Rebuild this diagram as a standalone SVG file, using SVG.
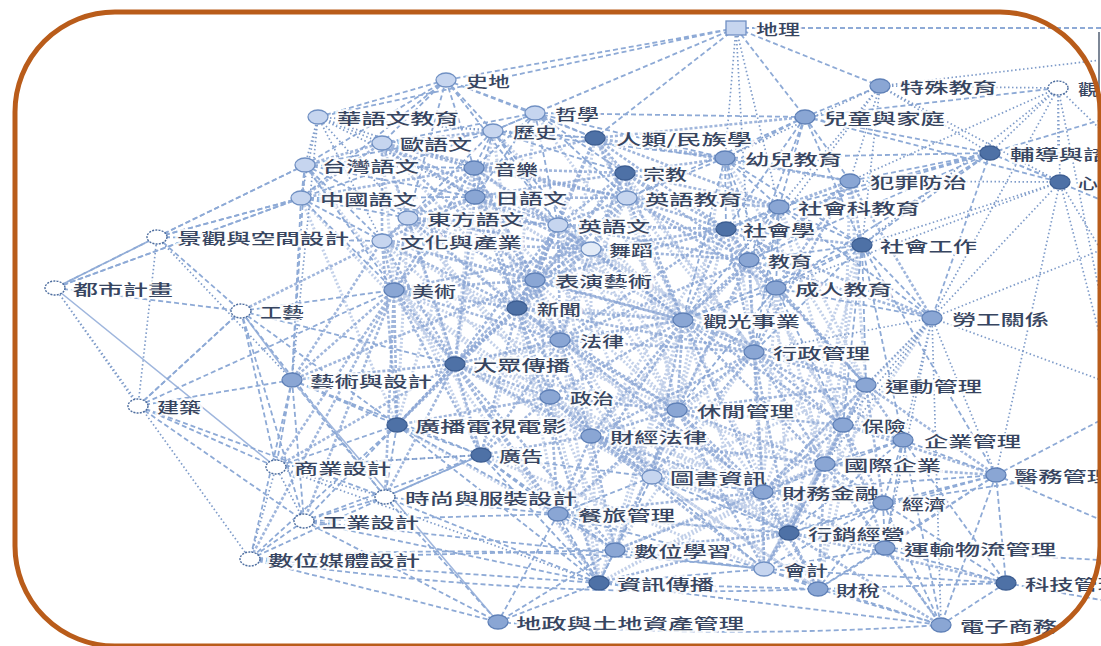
<svg xmlns="http://www.w3.org/2000/svg" width="1101" height="646" viewBox="0 0 1101 646">
<style>
.d{fill:none;stroke:#8eaad6;stroke-width:1.8;stroke-dasharray:5 3}
.t{fill:none;stroke:#7e9bc9;stroke-width:1.7;stroke-dasharray:1.5 2.5}
.s{fill:none;stroke:#9fb6dd;stroke-width:1.6}
.w{fill:none;stroke:#88a4d3;stroke-width:2.6;stroke-dasharray:3 2;opacity:.8}
.w2{fill:none;stroke:#9ab1da;stroke-width:3;stroke-dasharray:2 2;opacity:.6}
.n1{fill:#c6d5ef;stroke:#7090c3;stroke-width:1.3}
.n2{fill:#8aa6d4;stroke:#5f80b7;stroke-width:1.3}
.n3{fill:#4e71a6;stroke:#3d5e92;stroke-width:1.3}
.n0{fill:#fff;stroke:#4c6c9e;stroke-width:1.4;stroke-dasharray:2 1.2}
text{font-family:"Noto Sans CJK TC","Noto Sans CJK SC",sans-serif;font-size:15px;font-weight:500;fill:#374560;dominant-baseline:central;stroke:#fff;stroke-width:4;stroke-opacity:.85;paint-order:stroke;stroke-linejoin:round}
</style>
<rect width="1101" height="646" fill="#fff"/>
<g id="connectors">
<path class="w2" d="M382 143L683 320M382 143L560 340M474 168L683 320M474 168L560 340M474 168L754 352M475 197L683 320M475 197L560 340M475 197L677 410M408 218L683 320M408 218L560 340M408 218L550 397M408 218L591 436M558 225L677 410M558 225L591 436M558 225L754 352M558 225L652 477M591 249L677 410M591 249L591 436M591 249L754 352M591 249L763 492M535 280L591 436M535 280L677 410M535 280L652 477M535 280L481 455M517 308L652 477M517 308L558 514M517 308L763 492M394 290L550 397M394 290L591 436M394 290L683 320M394 290L677 410M382 241L560 340M382 241L550 397M382 241L481 455M455 364L683 320M455 364L677 410M455 364L652 477M455 364L763 492M560 340L789 533M560 340L615 550M560 340L599 583M683 320L789 533M683 320L764 569M683 320L615 550M683 320L599 583M754 352L764 569M754 352L558 514M754 352L615 550M754 352L883 503M677 410L599 583M677 410L883 503M677 410L818 589M591 436L599 583M591 436L818 589M550 397L615 550M550 397L599 583M550 397L763 492M550 397L789 533M652 477L818 589M652 477L885 548M763 492L599 583M789 533L558 514M843 425L764 569M843 425L818 589M843 425L652 477M866 385L764 569M866 385L818 589M866 385L652 477M825 464L615 550M825 464L599 583M776 288L763 492M776 288L789 533M776 288L825 464M749 260L843 425M749 260L825 464M749 260L763 492M749 260L591 436M726 229L677 410M726 229L843 425M726 229L591 436M627 198L677 410M627 198L754 352M627 198L560 340M625 173L754 352M625 173L677 410M625 173L560 340M595 138L683 320M595 138L754 352M595 138L560 340M725 158L754 352M725 158L866 385M725 158L677 410M779 207L866 385M779 207L843 425M779 207L677 410M850 181L866 385M850 181L843 425M862 245L825 464M862 245L763 492M862 245L789 533M932 318L789 533M932 318L763 492M493 131L683 320M493 131L517 308M493 131L455 364M535 113L517 308M535 113L683 320M474 168L455 364M474 168L397 425M382 143L455 364M382 143L394 290M305 165L455 364M301 198L455 364M301 198L397 425M408 218L397 425M408 218L481 455M394 290L599 583M397 425L615 550M481 455L764 569M455 364L789 533"/>
<path class="d" d="M736 28L446 80M736 28L535 113M736 28L595 138M736 28L493 131M736 28L805 117M736 28L880 86M736 28L1101 28M736 28L318 117"/>
<path class="t" d="M736 28L725 158M736 28L779 207M736 28L749 260"/>
<path class="d" d="M446 80L318 117M446 80L382 143M446 80L493 131M446 80L535 113M446 80L474 168M446 80L305 165M446 80L595 138M446 80L301 198M446 80L408 218M446 80L558 225"/>
<path class="t" d="M318 117L305 165M318 117L382 143M318 117L301 198M318 117L493 131M318 117L474 168M318 117L382 241M318 117L408 218M318 117L475 197M318 117L292 380M318 117L595 138"/>
<path class="d" d="M535 113L493 131M535 113L595 138M535 113L474 168M535 113L625 173M535 113L382 143M535 113L475 197M535 113L558 225M535 113L725 158M535 113L805 117M535 113L627 198"/>
<path class="w" d="M382 143L493 131M382 143L474 168M382 143L305 165M382 143L301 198M382 143L475 197M382 143L408 218M382 143L558 225M382 143L382 241M382 143L627 198M382 143L535 280"/>
<path class="d" d="M493 131L595 138M493 131L474 168M493 131L625 173M493 131L475 197M493 131L558 225M493 131L408 218M493 131L305 165M493 131L591 249M493 131L725 158M493 131L301 198"/>
<path class="w" d="M595 138L625 173M595 138L725 158M595 138L805 117M595 138L627 198M595 138L726 229M595 138L558 225M595 138L474 168M595 138L779 207M595 138L535 280M595 138L517 308M595 138L850 181"/>
<path class="d" d="M805 117L880 86M805 117L725 158M805 117L850 181M805 117L990 153M805 117L779 207M805 117L749 260M805 117L862 245M805 117L726 229M805 117L1060 182M805 117L627 198M805 117L1058 88"/>
<path class="t" d="M880 86L1058 88M880 86L990 153M880 86L850 181M880 86L725 158M880 86L779 207M880 86L862 245M880 86L749 260M880 86L1060 182M880 86L1101 60"/>
<path class="t" d="M1058 88L990 153M1058 88L1060 182M1058 88L862 245M1058 88L932 318M1058 88L850 181M1058 88L1101 130M1058 88L1101 300M1058 88L1058 160"/>
<path class="d" d="M305 165L301 198M305 165L474 168M305 165L475 197M305 165L408 218M305 165L382 241M305 165L157 237M305 165L292 380M305 165L394 290"/>
<path class="w" d="M474 168L475 197M474 168L558 225M474 168L408 218M474 168L382 241M474 168L535 280M474 168L591 249M474 168L394 290M474 168L517 308M474 168L625 173M474 168L627 198M474 168L301 198"/>
<path class="w" d="M625 173L725 158M625 173L627 198M625 173L726 229M625 173L558 225M625 173L591 249M625 173L749 260M625 173L779 207M625 173L535 280M625 173L683 320M625 173L517 308M625 173L475 197"/>
<path class="d" d="M725 158L779 207M725 158L749 260M725 158L726 229M725 158L850 181M725 158L862 245M725 158L627 198M725 158L776 288M725 158L990 153M725 158L683 320"/>
<path class="d" d="M990 153L1060 182M990 153L850 181M990 153L862 245M990 153L932 318M990 153L779 207M990 153L749 260M990 153L776 288M990 153L1101 120M990 153L1101 200M990 153L726 229"/>
<path class="t" d="M1060 182L862 245M1060 182L932 318M1060 182L850 181M1060 182L1101 250M1060 182L996 475M1060 182L776 288M1060 182L1101 340"/>
<path class="w" d="M850 181L862 245M850 181L779 207M850 181L749 260M850 181L726 229M850 181L932 318M850 181L776 288M850 181L754 352M850 181L683 320"/>
<path class="d" d="M301 198L475 197M301 198L408 218M301 198L382 241M301 198L157 237M301 198L55 288M301 198L394 290M301 198L292 380M301 198L558 225"/>
<path class="w" d="M475 197L408 218M475 197L558 225M475 197L382 241M475 197L591 249M475 197L535 280M475 197L394 290M475 197L517 308M475 197L627 198M475 197L455 364"/>
<path class="w" d="M627 198L558 225M627 198L726 229M627 198L591 249M627 198L749 260M627 198L779 207M627 198L535 280M627 198L683 320M627 198L776 288M627 198L517 308"/>
<path class="d" d="M779 207L726 229M779 207L862 245M779 207L749 260M779 207L776 288M779 207L932 318M779 207L754 352M779 207L683 320"/>
<path class="d" d="M157 237L55 288M157 237L301 198M157 237L305 165M157 237L382 241M157 237L241 311"/>
<path class="t" d="M157 237L138 406M157 237L292 380"/>
<path class="w" d="M408 218L558 225M408 218L382 241M408 218L535 280M408 218L394 290M408 218L517 308M408 218L591 249M408 218L455 364"/>
<path class="w" d="M558 225L591 249M558 225L535 280M558 225L517 308M558 225L726 229M558 225L683 320M558 225L560 340M558 225L749 260M558 225L455 364"/>
<path class="w" d="M726 229L862 245M726 229L749 260M726 229L776 288M726 229L683 320M726 229L754 352M726 229L591 249M726 229L535 280M726 229L932 318M726 229L560 340M726 229L866 385"/>
<path class="d" d="M862 245L749 260M862 245L776 288M862 245L932 318M862 245L754 352M862 245L866 385M862 245L843 425M862 245L683 320M862 245L996 475M862 245L903 440"/>
<path class="w" d="M382 241L394 290M382 241L535 280M382 241L517 308M382 241L455 364M382 241L292 380M382 241L241 311M382 241L397 425M382 241L591 249M382 241L683 320"/>
<path class="w" d="M591 249L535 280M591 249L517 308M591 249L683 320M591 249L560 340M591 249L749 260M591 249L455 364M591 249L394 290"/>
<path class="w" d="M749 260L776 288M749 260L683 320M749 260L754 352M749 260L932 318M749 260L866 385M749 260L677 410M749 260L560 340"/>
<path class="d" d="M55 288L241 311M55 288L301 198M55 288L157 237"/>
<path class="t" d="M55 288L138 406M55 288L250 559"/>
<path class="s" d="M55 288L276 467"/>
<path class="w" d="M535 280L517 308M535 280L394 290M535 280L455 364M535 280L560 340M535 280L683 320M535 280L550 397M535 280L397 425M535 280L292 380"/>
<path class="d" d="M776 288L754 352M776 288L932 318M776 288L866 385M776 288L683 320M776 288L677 410M776 288L843 425"/>
<path class="s" d="M241 311L292 380"/>
<path class="d" d="M241 311L138 406M241 311L394 290M241 311L276 467M241 311L385 497M241 311L304 521M241 311L455 364M241 311L397 425"/>
<path class="w" d="M394 290L517 308M394 290L455 364M394 290L292 380M394 290L397 425M394 290L481 455M394 290L385 497M394 290L276 467M394 290L304 521M394 290L250 559M394 290L560 340"/>
<path class="w" d="M517 308L455 364M517 308L560 340M517 308L550 397M517 308L683 320M517 308L397 425M517 308L481 455M517 308L591 436M517 308L677 410M517 308L754 352M517 308L599 583"/>
<path class="t" d="M932 318L866 385M932 318L843 425M932 318L903 440M932 318L996 475M932 318L754 352M932 318L825 464M932 318L1101 250M932 318L1101 380M932 318L941 625M932 318L885 548"/>
<path class="w" d="M683 320L754 352M683 320L677 410M683 320L560 340M683 320L550 397M683 320L866 385M683 320L591 436M683 320L763 492M683 320L652 477M683 320L843 425M683 320L558 514M683 320L825 464"/>
<path class="w" d="M560 340L550 397M560 340L455 364M560 340L591 436M560 340L677 410M560 340L754 352M560 340L481 455M560 340L652 477M560 340L763 492"/>
<path class="w" d="M754 352L866 385M754 352L677 410M754 352L843 425M754 352L903 440M754 352L825 464M754 352L763 492M754 352L789 533M754 352L591 436M754 352L652 477"/>
<path class="w" d="M455 364L397 425M455 364L481 455M455 364L550 397M455 364L292 380M455 364L385 497M455 364L591 436M455 364L599 583M455 364L615 550M455 364L558 514M455 364L276 467"/>
<path class="d" d="M292 380L397 425M292 380L276 467M292 380L385 497M292 380L304 521M292 380L250 559M292 380L138 406M292 380L481 455"/>
<path class="s" d="M292 380L498 622"/>
<path class="w" d="M866 385L843 425M866 385L903 440M866 385L825 464M866 385L677 410M866 385L996 475M866 385L883 503M866 385L763 492M866 385L789 533"/>
<path class="d" d="M138 406L241 311M138 406L276 467M138 406L385 497M138 406L304 521M138 406L394 290"/>
<path class="w" d="M550 397L591 436M550 397L481 455M550 397L677 410M550 397L652 477M550 397L558 514M550 397L397 425"/>
<path class="w" d="M677 410L591 436M677 410L652 477M677 410L763 492M677 410L825 464M677 410L843 425M677 410L789 533M677 410L558 514M677 410L615 550M677 410L764 569"/>
<path class="d" d="M397 425L481 455M397 425L385 497M397 425L276 467M397 425L304 521M397 425L599 583M397 425L558 514M397 425L250 559"/>
<path class="w" d="M843 425L903 440M843 425L825 464M843 425L763 492M843 425L883 503M843 425L789 533M843 425L996 475M843 425L885 548"/>
<path class="w" d="M591 436L652 477M591 436L763 492M591 436L558 514M591 436L825 464M591 436L789 533M591 436L615 550M591 436L764 569M591 436L481 455"/>
<path class="d" d="M903 440L825 464M903 440L996 475M903 440L883 503M903 440L763 492M903 440L789 533M903 440L885 548M903 440L941 625M903 440L1006 583"/>
<path class="d" d="M481 455L385 497M481 455L558 514M481 455L599 583M481 455L615 550M481 455L652 477M481 455L276 467M481 455L304 521"/>
<path class="t" d="M276 467L385 497M276 467L304 521M276 467L250 559M276 467L481 455M276 467L599 583"/>
<path class="w" d="M825 464L763 492M825 464L883 503M825 464L996 475M825 464L789 533M825 464L885 548M825 464L764 569M825 464L818 589M825 464L941 625"/>
<path class="d" d="M652 477L763 492M652 477L558 514M652 477L615 550M652 477L599 583M652 477L789 533M652 477L764 569"/>
<path class="d" d="M996 475L883 503M996 475L885 548M996 475L1006 583M996 475L941 625M996 475L789 533M996 475L763 492M996 475L1101 420M996 475L1101 520M996 475L818 589"/>
<path class="w" d="M763 492L883 503M763 492L789 533M763 492L764 569M763 492L818 589M763 492L885 548M763 492L615 550M763 492L558 514"/>
<path class="d" d="M883 503L789 533M883 503L885 548M883 503L818 589M883 503L941 625M883 503L1006 583M883 503L764 569M883 503L1101 470"/>
<path class="d" d="M385 497L304 521M385 497L250 559M385 497L558 514M385 497L599 583M385 497L498 622M385 497L481 455"/>
<path class="d" d="M304 521L250 559M304 521L599 583M304 521L498 622M304 521L558 514M304 521L764 569"/>
<path class="d" d="M558 514L615 550M558 514L599 583M558 514L498 622M558 514L789 533M558 514L764 569"/>
<path class="w" d="M789 533L885 548M789 533L764 569M789 533L818 589M789 533L941 625M789 533L1006 583M789 533L615 550M789 533L599 583"/>
<path class="d" d="M615 550L599 583M615 550L498 622M615 550L764 569M615 550L250 559"/>
<path class="d" d="M885 548L818 589M885 548L941 625M885 548L1006 583M885 548L764 569M885 548L1101 560"/>
<path class="d" d="M250 559L599 583M250 559Q500 540 764 569M250 559L498 622M250 559Q520 600 818 589"/>
<path class="d" d="M764 569L818 589M764 569L941 625M764 569L599 583M764 569L1006 583M599 583L498 622M599 583L818 589M599 583L941 625M818 589L941 625M818 589L1006 583M1006 583L941 625M1006 583L1101 600M498 622Q720 640 941 625"/>
</g>
<g id="n-dili"><rect x="726" y="21" width="20" height="14" class="n1"/><text x="756" y="28" textLength="44" lengthAdjust="spacingAndGlyphs">地理</text></g>
<g id="n-shidi"><ellipse cx="446" cy="80" rx="10" ry="7" class="n1"/><text x="466" y="80" textLength="44" lengthAdjust="spacingAndGlyphs">史地</text></g>
<g id="n-huayu"><ellipse cx="318" cy="117" rx="10" ry="7" class="n1"/><text x="337" y="117" textLength="122" lengthAdjust="spacingAndGlyphs">華語文教育</text></g>
<g id="n-zhexue"><ellipse cx="535" cy="113" rx="10" ry="7" class="n1"/><text x="555" y="113" textLength="44" lengthAdjust="spacingAndGlyphs">哲學</text></g>
<g id="n-ouyu"><ellipse cx="382" cy="143" rx="10" ry="7" class="n1"/><text x="400" y="143" textLength="72" lengthAdjust="spacingAndGlyphs">歐語文</text></g>
<g id="n-lishi"><ellipse cx="493" cy="131" rx="10" ry="7" class="n1"/><text x="513" y="131" textLength="44" lengthAdjust="spacingAndGlyphs">歷史</text></g>
<g id="n-renlei"><ellipse cx="595" cy="138" rx="10" ry="7" class="n3"/><text x="616" y="138" textLength="136" lengthAdjust="spacingAndGlyphs">人類/民族學</text></g>
<g id="n-ertong"><ellipse cx="805" cy="117" rx="10" ry="7" class="n2"/><text x="823" y="117" textLength="122" lengthAdjust="spacingAndGlyphs">兒童與家庭</text></g>
<g id="n-teshu"><ellipse cx="880" cy="86" rx="10" ry="7" class="n2"/><text x="900" y="86" textLength="97" lengthAdjust="spacingAndGlyphs">特殊教育</text></g>
<g id="n-guan"><ellipse cx="1058" cy="88" rx="10" ry="7" class="n0"/><text x="1078" y="88" textLength="20" lengthAdjust="spacingAndGlyphs">觀</text></g>
<g id="n-taiwan"><ellipse cx="305" cy="165" rx="10" ry="7" class="n1"/><text x="322" y="165" textLength="97" lengthAdjust="spacingAndGlyphs">台灣語文</text></g>
<g id="n-yinyue"><ellipse cx="474" cy="168" rx="10" ry="7" class="n2"/><text x="494" y="168" textLength="44" lengthAdjust="spacingAndGlyphs">音樂</text></g>
<g id="n-zongjiao"><ellipse cx="625" cy="173" rx="10" ry="7" class="n3"/><text x="643" y="173" textLength="44" lengthAdjust="spacingAndGlyphs">宗教</text></g>
<g id="n-youer"><ellipse cx="725" cy="158" rx="10" ry="7" class="n2"/><text x="745" y="158" textLength="97" lengthAdjust="spacingAndGlyphs">幼兒教育</text></g>
<g id="n-fudao"><ellipse cx="990" cy="153" rx="10" ry="7" class="n3"/><text x="1010" y="153" textLength="122" lengthAdjust="spacingAndGlyphs">輔導與諮商</text></g>
<g id="n-xinli"><ellipse cx="1060" cy="182" rx="10" ry="7" class="n3"/><text x="1078" y="182" textLength="20" lengthAdjust="spacingAndGlyphs">心</text></g>
<g id="n-fanzui"><ellipse cx="850" cy="181" rx="10" ry="7" class="n2"/><text x="870" y="181" textLength="97" lengthAdjust="spacingAndGlyphs">犯罪防治</text></g>
<g id="n-zhongguo"><ellipse cx="301" cy="198" rx="10" ry="7" class="n1"/><text x="320" y="198" textLength="97" lengthAdjust="spacingAndGlyphs">中國語文</text></g>
<g id="n-riyu"><ellipse cx="475" cy="197" rx="10" ry="7" class="n2"/><text x="495" y="197" textLength="72" lengthAdjust="spacingAndGlyphs">日語文</text></g>
<g id="n-yingjiao"><ellipse cx="627" cy="198" rx="10" ry="7" class="n1"/><text x="645" y="198" textLength="97" lengthAdjust="spacingAndGlyphs">英語教育</text></g>
<g id="n-shekejiao"><ellipse cx="779" cy="207" rx="10" ry="7" class="n2"/><text x="798" y="207" textLength="122" lengthAdjust="spacingAndGlyphs">社會科教育</text></g>
<g id="n-jingguan"><ellipse cx="157" cy="237" rx="10" ry="7" class="n0"/><text x="177" y="237" textLength="172" lengthAdjust="spacingAndGlyphs">景觀與空間設計</text></g>
<g id="n-dongfang"><ellipse cx="408" cy="218" rx="10" ry="7" class="n1"/><text x="427" y="218" textLength="97" lengthAdjust="spacingAndGlyphs">東方語文</text></g>
<g id="n-yingyuwen"><ellipse cx="558" cy="225" rx="10" ry="7" class="n1"/><text x="578" y="225" textLength="72" lengthAdjust="spacingAndGlyphs">英語文</text></g>
<g id="n-shehuixue"><ellipse cx="726" cy="229" rx="10" ry="7" class="n3"/><text x="743" y="229" textLength="72" lengthAdjust="spacingAndGlyphs">社會學</text></g>
<g id="n-shegong"><ellipse cx="862" cy="245" rx="10" ry="7" class="n3"/><text x="880" y="245" textLength="97" lengthAdjust="spacingAndGlyphs">社會工作</text></g>
<g id="n-wenhua"><ellipse cx="382" cy="241" rx="10" ry="7" class="n1"/><text x="400" y="241" textLength="122" lengthAdjust="spacingAndGlyphs">文化與產業</text></g>
<g id="n-wudao"><ellipse cx="591" cy="249" rx="10" ry="7" class="n1" style="fill:#e3ebf7"/><text x="609" y="249" textLength="44" lengthAdjust="spacingAndGlyphs">舞蹈</text></g>
<g id="n-jiaoyu"><ellipse cx="749" cy="260" rx="10" ry="7" class="n2"/><text x="768" y="260" textLength="44" lengthAdjust="spacingAndGlyphs">教育</text></g>
<g id="n-dushi"><ellipse cx="55" cy="288" rx="10" ry="7" class="n0"/><text x="73" y="288" textLength="100" lengthAdjust="spacingAndGlyphs">都市計畫</text></g>
<g id="n-biaoyan"><ellipse cx="535" cy="280" rx="10" ry="7" class="n2"/><text x="555" y="280" textLength="97" lengthAdjust="spacingAndGlyphs">表演藝術</text></g>
<g id="n-chengren"><ellipse cx="776" cy="288" rx="10" ry="7" class="n2"/><text x="795" y="288" textLength="97" lengthAdjust="spacingAndGlyphs">成人教育</text></g>
<g id="n-gongyi"><ellipse cx="241" cy="311" rx="10" ry="7" class="n0"/><text x="260" y="311" textLength="44" lengthAdjust="spacingAndGlyphs">工藝</text></g>
<g id="n-meishu"><ellipse cx="394" cy="290" rx="10" ry="7" class="n2"/><text x="412" y="290" textLength="44" lengthAdjust="spacingAndGlyphs">美術</text></g>
<g id="n-xinwen"><ellipse cx="517" cy="308" rx="10" ry="7" class="n3"/><text x="537" y="308" textLength="44" lengthAdjust="spacingAndGlyphs">新聞</text></g>
<g id="n-laogong"><ellipse cx="932" cy="318" rx="10" ry="7" class="n2"/><text x="952" y="318" textLength="97" lengthAdjust="spacingAndGlyphs">勞工關係</text></g>
<g id="n-guanguang"><ellipse cx="683" cy="320" rx="10" ry="7" class="n2"/><text x="703" y="320" textLength="97" lengthAdjust="spacingAndGlyphs">觀光事業</text></g>
<g id="n-falv"><ellipse cx="560" cy="340" rx="10" ry="7" class="n2"/><text x="580" y="340" textLength="44" lengthAdjust="spacingAndGlyphs">法律</text></g>
<g id="n-xingzheng"><ellipse cx="754" cy="352" rx="10" ry="7" class="n2"/><text x="773" y="352" textLength="97" lengthAdjust="spacingAndGlyphs">行政管理</text></g>
<g id="n-dazhong"><ellipse cx="455" cy="364" rx="10" ry="7" class="n3"/><text x="473" y="364" textLength="97" lengthAdjust="spacingAndGlyphs">大眾傳播</text></g>
<g id="n-yishe"><ellipse cx="292" cy="380" rx="10" ry="7" class="n2"/><text x="310" y="380" textLength="122" lengthAdjust="spacingAndGlyphs">藝術與設計</text></g>
<g id="n-yundong"><ellipse cx="866" cy="385" rx="10" ry="7" class="n2"/><text x="885" y="385" textLength="97" lengthAdjust="spacingAndGlyphs">運動管理</text></g>
<g id="n-jianzhu"><ellipse cx="138" cy="406" rx="10" ry="7" class="n0"/><text x="157" y="406" textLength="44" lengthAdjust="spacingAndGlyphs">建築</text></g>
<g id="n-zhengzhi"><ellipse cx="550" cy="397" rx="10" ry="7" class="n2"/><text x="570" y="397" textLength="44" lengthAdjust="spacingAndGlyphs">政治</text></g>
<g id="n-xiuxian"><ellipse cx="677" cy="410" rx="10" ry="7" class="n2"/><text x="697" y="410" textLength="97" lengthAdjust="spacingAndGlyphs">休閒管理</text></g>
<g id="n-guangdian"><ellipse cx="397" cy="425" rx="10" ry="7" class="n3"/><text x="415" y="425" textLength="152" lengthAdjust="spacingAndGlyphs">廣播電視電影</text></g>
<g id="n-baoxian"><ellipse cx="843" cy="425" rx="10" ry="7" class="n2"/><text x="862" y="425" textLength="44" lengthAdjust="spacingAndGlyphs">保險</text></g>
<g id="n-caifa"><ellipse cx="591" cy="436" rx="10" ry="7" class="n2"/><text x="610" y="436" textLength="97" lengthAdjust="spacingAndGlyphs">財經法律</text></g>
<g id="n-qiguan"><ellipse cx="903" cy="440" rx="10" ry="7" class="n2"/><text x="924" y="440" textLength="97" lengthAdjust="spacingAndGlyphs">企業管理</text></g>
<g id="n-guanggao"><ellipse cx="481" cy="455" rx="10" ry="7" class="n3"/><text x="499" y="455" textLength="44" lengthAdjust="spacingAndGlyphs">廣告</text></g>
<g id="n-shangshe"><ellipse cx="276" cy="467" rx="10" ry="7" class="n0"/><text x="294" y="467" textLength="97" lengthAdjust="spacingAndGlyphs">商業設計</text></g>
<g id="n-guoqi"><ellipse cx="825" cy="464" rx="10" ry="7" class="n2"/><text x="844" y="464" textLength="97" lengthAdjust="spacingAndGlyphs">國際企業</text></g>
<g id="n-tushu"><ellipse cx="652" cy="477" rx="10" ry="7" class="n1"/><text x="670" y="477" textLength="97" lengthAdjust="spacingAndGlyphs">圖書資訊</text></g>
<g id="n-yiwu"><ellipse cx="996" cy="475" rx="10" ry="7" class="n2"/><text x="1014" y="475" textLength="97" lengthAdjust="spacingAndGlyphs">醫務管理</text></g>
<g id="n-caijin"><ellipse cx="763" cy="492" rx="10" ry="7" class="n2"/><text x="782" y="492" textLength="97" lengthAdjust="spacingAndGlyphs">財務金融</text></g>
<g id="n-jingji"><ellipse cx="883" cy="503" rx="10" ry="7" class="n2"/><text x="902" y="503" textLength="44" lengthAdjust="spacingAndGlyphs">經濟</text></g>
<g id="n-shishang"><ellipse cx="385" cy="497" rx="10" ry="7" class="n0"/><text x="405" y="497" textLength="172" lengthAdjust="spacingAndGlyphs">時尚與服裝設計</text></g>
<g id="n-gongshe"><ellipse cx="304" cy="521" rx="10" ry="7" class="n0"/><text x="322" y="521" textLength="97" lengthAdjust="spacingAndGlyphs">工業設計</text></g>
<g id="n-canlv"><ellipse cx="558" cy="514" rx="10" ry="7" class="n2"/><text x="578" y="514" textLength="97" lengthAdjust="spacingAndGlyphs">餐旅管理</text></g>
<g id="n-xingxiao"><ellipse cx="789" cy="533" rx="10" ry="7" class="n3"/><text x="808" y="533" textLength="97" lengthAdjust="spacingAndGlyphs">行銷經營</text></g>
<g id="n-shuxuexi"><ellipse cx="615" cy="550" rx="10" ry="7" class="n2"/><text x="634" y="550" textLength="97" lengthAdjust="spacingAndGlyphs">數位學習</text></g>
<g id="n-yunshu"><ellipse cx="885" cy="548" rx="10" ry="7" class="n2"/><text x="904" y="548" textLength="152" lengthAdjust="spacingAndGlyphs">運輸物流管理</text></g>
<g id="n-shumei"><ellipse cx="250" cy="559" rx="10" ry="7" class="n0"/><text x="268" y="559" textLength="152" lengthAdjust="spacingAndGlyphs">數位媒體設計</text></g>
<g id="n-kuaiji"><ellipse cx="764" cy="569" rx="10" ry="7" class="n1"/><text x="784" y="569" textLength="44" lengthAdjust="spacingAndGlyphs">會計</text></g>
<g id="n-zichuan"><ellipse cx="599" cy="583" rx="10" ry="7" class="n3"/><text x="617" y="583" textLength="97" lengthAdjust="spacingAndGlyphs">資訊傳播</text></g>
<g id="n-caishui"><ellipse cx="818" cy="589" rx="10" ry="7" class="n2"/><text x="836" y="589" textLength="44" lengthAdjust="spacingAndGlyphs">財稅</text></g>
<g id="n-keji"><ellipse cx="1006" cy="583" rx="10" ry="7" class="n3"/><text x="1025" y="583" textLength="97" lengthAdjust="spacingAndGlyphs">科技管理</text></g>
<g id="n-dizheng"><ellipse cx="498" cy="622" rx="10" ry="7" class="n2"/><text x="516" y="622" textLength="228" lengthAdjust="spacingAndGlyphs">地政與土地資產管理</text></g>
<g id="n-dianshang"><ellipse cx="941" cy="625" rx="10" ry="7" class="n2"/><text x="960" y="625" textLength="97" lengthAdjust="spacingAndGlyphs">電子商務</text></g>
<line x1="1099" y1="32" x2="1099" y2="215" stroke="#7d8796" stroke-width="2"/>
<rect x="15" y="12" width="1085" height="634" rx="100" ry="100" fill="none" stroke="#b95c1a" stroke-width="5"/>
</svg>
